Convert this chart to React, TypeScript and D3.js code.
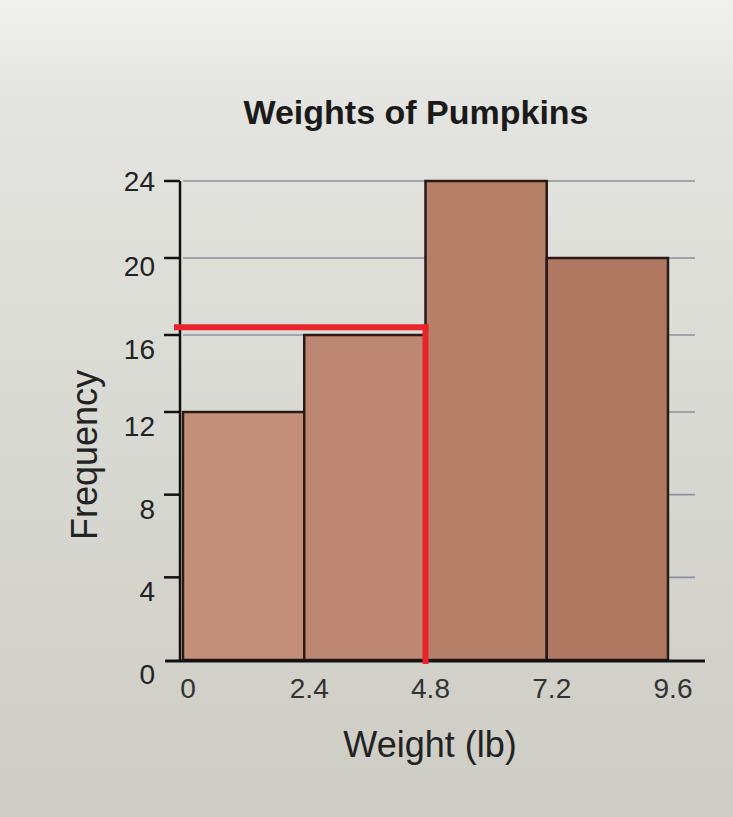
import React from "react";
import * as d3 from "d3";

const binEdges = [0, 2.4, 4.8, 7.2, 9.6];
const frequencies = [12, 16, 24, 20];
const yTicks = [0, 4, 8, 12, 16, 20, 24];
const xTickLabels = ["0", "2.4", "4.8", "7.2", "9.6"];
const markerFreq = [16.4];
const markerWeight = [4.8];

export default function App() {
  const W = 733, H = 817;
  const x = d3.scaleLinear().domain([0, 9.6]).range([183, 668]);
  const y = d3.scaleLinear().domain([0, 12, 24]).range([660, 412, 181]);
  const shade = d3.scaleLinear<string>().domain([0, 9.6]).range(["#c6937d", "#ad735c"]);
  const font = "'Liberation Sans', Arial, sans-serif";
  const bars = frequencies.map((f, i) => ({ x0: binEdges[i], x1: binEdges[i + 1], f }));
  const labelOffset = (t: number) => (t === 24 ? 10 : t === 20 ? 18 : 24);
  return (
    <svg width={W} height={H} style={{ position: "absolute", left: 0, top: 0 }}>
      <defs>
        <linearGradient id="bg" x1="0" y1="0" x2="0" y2="1">
          <stop offset="0" stopColor="#f0f0ee" />
          <stop offset="0.12" stopColor="#e4e4e0" />
          <stop offset="1" stopColor="#cdcdc5" />
        </linearGradient>
      </defs>
      <rect x={0} y={0} width={W} height={H} fill="url(#bg)" />
      <text x={416} y={124} textAnchor="middle" fontFamily={font} fontWeight="bold" fontSize={34} fill="#1a1a1a">
        Weights of Pumpkins
      </text>
      {yTicks.filter(t => t > 0).map(t => (
        <line key={"g" + t} x1={x(0)} x2={695} y1={y(t)} y2={y(t)} stroke="#8d90a0" strokeWidth={1.6} />
      ))}
      {bars.map((b, i) => (
        <rect key={i} x={x(b.x0)} y={y(b.f)} width={x(b.x1) - x(b.x0)} height={y(0) - y(b.f)}
          fill={shade((b.x0 + b.x1) / 2)} stroke="#2a1a16" strokeWidth={2.5} />
      ))}
      <line x1={180} x2={180} y1={y(24)} y2={y(0) + 2} stroke="#111" strokeWidth={2.5} />
      <line x1={165} x2={705} y1={y(0) + 1} y2={y(0) + 1} stroke="#111" strokeWidth={3} />
      {yTicks.map(t => (
        <g key={"t" + t}>
          {t > 0 && <line x1={164} x2={180} y1={y(t)} y2={y(t)} stroke="#111" strokeWidth={2.5} />}
          <text x={155} y={y(t) + labelOffset(t)} textAnchor="end" fontFamily={font} fontSize={28} fill="#222">
            {t}
          </text>
        </g>
      ))}
      {binEdges.map((e, i) => (
        <text key={"x" + i} x={x(e) + 5} y={y(0) + 38} textAnchor="middle" fontFamily={font} fontSize={28} fill="#333">
          {xTickLabels[i]}
        </text>
      ))}
      <text x={430} y={757} textAnchor="middle" fontFamily={font} fontSize={36} fill="#222">Weight (lb)</text>
      <text transform={`translate(97,455) rotate(-90)`} textAnchor="middle" fontFamily={font} fontSize={36} fill="#222">Frequency</text>
      {markerFreq.map((mf, i) => (
        <g key={"m" + i}>
          <line x1={174} x2={x(markerWeight[i]) + 3} y1={y(mf)} y2={y(mf)} stroke="#e8232c" strokeWidth={6} />
          <line x1={x(markerWeight[i])} x2={x(markerWeight[i])} y1={y(mf) - 3} y2={y(0) + 4} stroke="#e8232c" strokeWidth={6} />
        </g>
      ))}
    </svg>
  );
}
